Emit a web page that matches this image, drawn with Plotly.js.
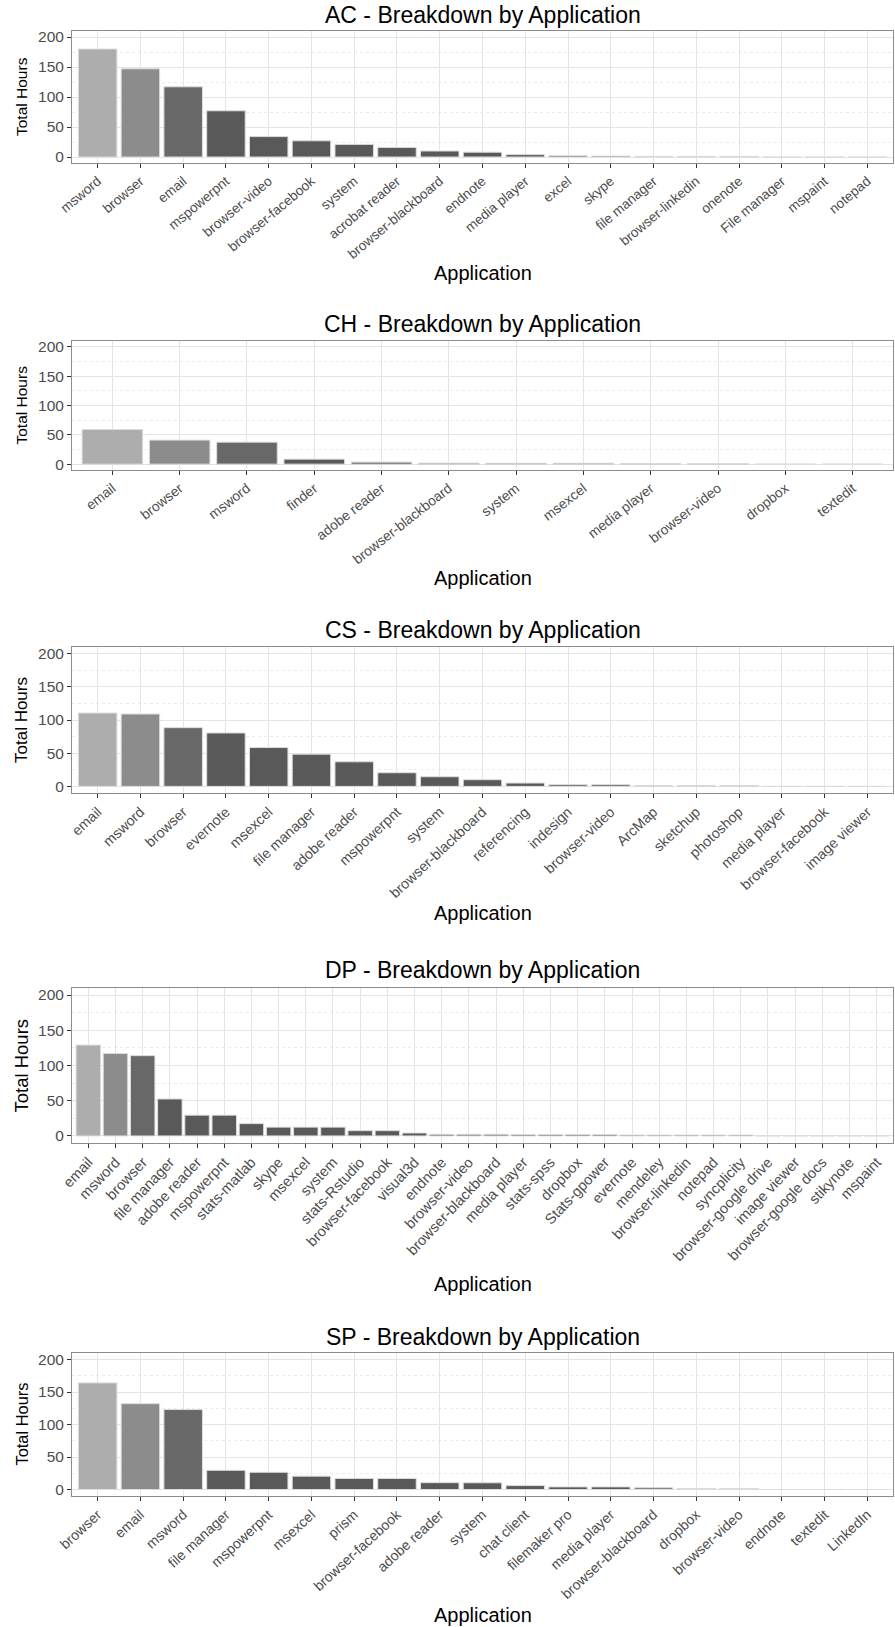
<!DOCTYPE html>
<html>
<head>
<meta charset="utf-8">
<script src="https://cdn.plot.ly/plotly-3.0.1.min.js"></script>
<style>
  html, body { margin: 0; padding: 0; background: #ffffff; }
  #chart { width: 895px; height: 1627px; }
</style>
</head>
<body>
<div id="chart"></div>
<script>
// Hours spent per application, one group of users per panel
const acApps = ['msword', 'browser', 'email', 'mspowerpnt', 'browser-video', 'browser-facebook',
  'system', 'acrobat reader', 'browser-blackboard', 'endnote', 'media player', 'excel', 'skype',
  'file manager', 'browser-linkedin', 'onenote', 'File manager', 'mspaint', 'notepad'];
const acHours = [180, 147, 117, 77, 34, 27, 21, 16, 10, 8, 4, 2, 1.5, 1, 1, 1, 0, 0, 0];

const chApps = ['email', 'browser', 'msword', 'finder', 'adobe reader', 'browser-blackboard',
  'system', 'msexcel', 'media player', 'browser-video', 'dropbox', 'textedit'];
const chHours = [59, 41, 37.5, 8.5, 3.4, 1.7, 1.5, 1.5, 1.2, 1, 0, 0];

const csApps = ['email', 'msword', 'browser', 'evernote', 'msexcel', 'file manager', 'adobe reader',
  'mspowerpnt', 'system', 'browser-blackboard', 'referencing', 'indesign', 'browser-video', 'ArcMap',
  'sketchup', 'photoshop', 'media player', 'browser-facebook', 'image viewer'];
const csHours = [110.5, 109, 88.5, 80.5, 58.5, 48.5, 37, 20.5, 14.5, 10, 5, 2.5, 2.5, 1, 1, 1, 0, 0, 0];

const dpApps = ['email', 'msword', 'browser', 'file manager', 'adobe reader', 'mspowerpnt',
  'stats-matlab', 'skype', 'msexcel', 'system', 'stats-Rstudio', 'browser-facebook', 'visual3d',
  'endnote', 'browser-video', 'browser-blackboard', 'media player', 'stats-spss', 'dropbox',
  'Stats-gpower', 'evernote', 'mendeley', 'browser-linkedin', 'notepad', 'syncplicity',
  'browser-google drive', 'image viewer', 'browser-google docs', 'stikynote', 'mspaint'];
const dpHours = [129, 117, 114, 52.5, 29.5, 29.5, 17.5, 12.5, 12.5, 12.5, 7.5, 7.5, 4.2,
  2.3, 2.3, 2.3, 2, 2, 2, 2, 1.3, 1.3, 1.3, 1.3, 1.3, 0, 0, 0, 0, 0];

const spApps = ['browser', 'email', 'msword', 'file manager', 'mspowerpnt', 'msexcel', 'prism',
  'browser-facebook', 'adobe reader', 'system', 'chat client', 'filemaker pro', 'media player',
  'browser-blackboard', 'dropbox', 'browser-video', 'endnote', 'textedit', 'LinkedIn'];
const spHours = [164, 132, 123, 29.5, 26.5, 20.5, 17, 17, 10.5, 10.3, 6, 4, 4, 2.5, 1.5, 1.5, 0, 0, 0];

const yTicks = [0, 50, 100, 150, 200];
const yMinor = [25, 75, 125, 175];

// Page geometry (pixels)
const W = 895, H = 1627;
const plotLeft = 72, plotRight = 893;

const panels = [
  { label: 'AC', apps: acApps, hours: acHours, top: 31, bottom: 163, titleY: 15, xTitleY: 273,
    tickSize: 13.6, tickAngle: -40, yTitleSize: 15.5 },
  { label: 'CH', apps: chApps, hours: chHours, top: 341, bottom: 470, titleY: 324, xTitleY: 578,
    tickSize: 13.8, tickAngle: -38, yTitleSize: 15.5 },
  { label: 'CS', apps: csApps, hours: csHours, top: 647, bottom: 793, titleY: 630, xTitleY: 913,
    tickSize: 14.3, tickAngle: -43, yTitleSize: 17 },
  { label: 'DP', apps: dpApps, hours: dpHours, top: 988, bottom: 1143, titleY: 970, xTitleY: 1284,
    tickSize: 14.6, tickAngle: -46.5, yTitleSize: 18.5 },
  { label: 'SP', apps: spApps, hours: spHours, top: 1353, bottom: 1496, titleY: 1337, xTitleY: 1615,
    tickSize: 14.1, tickAngle: -42.5, yTitleSize: 16.4 }
];

const FONT = 'Liberation Sans, Arial, Helvetica, sans-serif';

// Grey shades by rank: the three leading applications are lighter
function rankColor(i) {
  const lead = ['#adadad', '#8c8c8c', '#686868'];
  return i < lead.length ? lead[i] : '#595959';
}

const px = v => v / W;
const py = v => 1 - v / H;

const traces = [];
const layout = {
  width: W,
  height: H,
  margin: { l: 0, r: 0, t: 0, b: 0 },
  paper_bgcolor: '#ffffff',
  plot_bgcolor: '#ffffff',
  showlegend: false,
  font: { family: FONT, color: '#000000' },
  annotations: []
};

panels.forEach((p, k) => {
  const n = k === 0 ? '' : String(k + 1);
  traces.push({
    type: 'bar',
    x: p.apps,
    y: p.hours,
    xaxis: 'x' + n,
    yaxis: 'y' + n,
    width: 0.9,
    marker: {
      color: p.apps.map((_, i) => rankColor(i)),
      line: { color: '#dcdcdc', width: 1 }
    },
    hovertemplate: '%{x}: %{y}<extra></extra>'
  });

  layout['xaxis' + n] = {
    domain: [px(plotLeft), px(plotRight)],
    anchor: 'y' + n,
    type: 'category',
    categoryorder: 'array',
    categoryarray: p.apps,
    range: [-0.6, p.apps.length - 0.4],
    tickangle: p.tickAngle,
    ticks: 'outside',
    ticklen: 4,
    tickwidth: 1,
    tickcolor: '#333333',
    tickfont: { family: FONT, size: p.tickSize, color: '#4d4d4d' },
    showgrid: true,
    gridcolor: '#e4e4e4',
    gridwidth: 1,
    showline: true,
    mirror: true,
    linecolor: '#8c8c8c',
    linewidth: 1,
    zeroline: false,
    fixedrange: true
  };

  layout['yaxis' + n] = {
    domain: [py(p.bottom), py(p.top)],
    anchor: 'x' + n,
    range: [-10, 210],
    tickmode: 'array',
    tickvals: yTicks,
    ticktext: yTicks.map(String),
    ticks: 'outside',
    ticklen: 4,
    tickwidth: 1,
    tickcolor: '#333333',
    tickfont: { family: FONT, size: 15.5, color: '#4d4d4d' },
    showgrid: true,
    gridcolor: '#e4e4e4',
    gridwidth: 1,
    minor: {
      tickmode: 'array',
      tickvals: yMinor,
      ticks: '',
      showgrid: true,
      gridcolor: '#ececec',
      griddash: 'dot',
      gridwidth: 1
    },
    showline: true,
    mirror: true,
    linecolor: '#8c8c8c',
    linewidth: 1,
    zeroline: false,
    fixedrange: true
  };

  const cx = px((plotLeft + plotRight) / 2);
  layout.annotations.push(
    {
      text: p.label + ' - Breakdown by Application',
      xref: 'paper', yref: 'paper',
      x: cx, y: py(p.titleY),
      xanchor: 'center', yanchor: 'middle',
      showarrow: false,
      font: { family: FONT, size: 23, color: '#000000' }
    },
    {
      text: 'Application',
      xref: 'paper', yref: 'paper',
      x: cx, y: py(p.xTitleY),
      xanchor: 'center', yanchor: 'middle',
      showarrow: false,
      font: { family: FONT, size: 20, color: '#000000' }
    },
    {
      text: 'Total Hours',
      xref: 'paper', yref: 'paper',
      x: px(21), y: py((p.top + p.bottom) / 2),
      xanchor: 'center', yanchor: 'middle',
      textangle: -90,
      showarrow: false,
      font: { family: FONT, size: p.yTitleSize, color: '#000000' }
    }
  );
});

Plotly.newPlot('chart', traces, layout, { displayModeBar: false, staticPlot: true });
</script>
</body>
</html>
